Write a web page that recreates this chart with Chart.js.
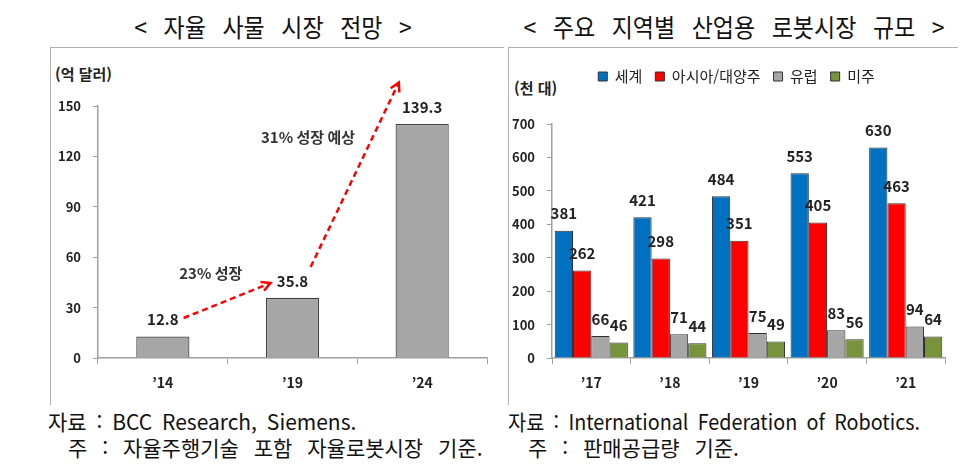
<!DOCTYPE html>
<html lang="ko">
<head>
<meta charset="UTF-8">
<title>자율 사물 시장 전망 / 산업용 로봇시장 규모</title>
<script src="https://cdn.jsdelivr.net/npm/chart.js"></script>
<style>
    body {
        margin: 0;
        width: 970px;
        height: 471px;
        background: #fff;
        position: relative;
        font-family: 'Noto Sans CJK KR', sans-serif;
        color: #111;
        overflow: hidden;
    }
    .title {
        position: absolute;
        top: 9px;
        font-size: 25px;
        line-height: 34px;
        word-spacing: 11px;
        white-space: nowrap;
        transform: translateX(-50%) scaleX(0.92);
    }
    .box {
        position: absolute;
        top: 47px;
        height: 358px;
        border-top: 1.5px solid #b0b0b0;
        border-left: 1.5px solid #b0b0b0;
        box-sizing: border-box;
    }
    .unit {
        position: absolute;
        font-size: 15px;
        font-weight: bold;
        color: #222;
    }
    canvas {
        position: absolute;
    }
    .note {
        position: absolute;
        font-size: 21px;
        white-space: nowrap;
        line-height: 25px;
        word-spacing: 4px;
        transform-origin: left top;
    }
</style>
</head>
<body>
<div class="title" style="left:273px">&lt; 자율 사물 시장 전망 &gt;</div>
<div class="title" style="left:734px">&lt; 주요 지역별 산업용 로봇시장 규모 &gt;</div>

<div class="box" style="left:50px; width:454px"></div>
<div class="box" style="left:508px; width:450px"></div>

<div class="unit" style="left:55px; top:63px">(억 달러)</div>
<div class="unit" style="left:514px; top:77px">(천 대)</div>

<canvas id="leftChart" width="450" height="355" style="left:50px; top:47px"></canvas>
<canvas id="rightChart" width="450" height="355" style="left:508px; top:47px"></canvas>

<div class="note" style="left:48px; top:409px">자료 : BCC Research, Siemens.</div>
<div class="note" style="left:68px; top:435px; word-spacing:9px">주 : 자율주행기술 포함 자율로봇시장 기준.</div>
<div class="note" style="left:508px; top:409px; transform:scaleX(0.94)">자료 : International Federation of Robotics.</div>
<div class="note" style="left:528px; top:435px; word-spacing:9px">주 : 판매공급량 기준.</div>

<script>
    // 왼쪽: 자율 사물 시장 (억 달러)
    const leftLabels = ['’14', '’19', '’24'];
    const leftValues = [12.8, 35.8, 139.3];
    const leftTicks = { min: 0, max: 150, step: 30 };

    // 성장률 화살표 (x: 카테고리 인덱스, y: 값 단위)
    const growthTexts = ['23% 성장', '31% 성장 예상'];
    const growthTextPos = [[0.37, 50.5], [1.12, 131.5]];
    const growthArrows = [
        [[0.16, 23.8], [0.83, 44.6]],
        [[1.14, 54.2], [1.82, 164]]
    ];

    // 오른쪽: 지역별 산업용 로봇시장 (천 대)
    const rightLabels = ['’17', '’18', '’19', '’20', '’21'];
    const seriesNames = ['세계', '아시아/대양주', '유럽', '미주'];
    const worldValues = [381, 421, 484, 553, 630];
    const asiaValues = [262, 298, 351, 405, 463];
    const europeValues = [66, 71, 75, 83, 94];
    const americaValues = [46, 44, 49, 56, 64];
    const rightTicks = { min: 0, max: 700, step: 100 };

    const seriesColors = ['#0070C0', '#FF0000', '#A6A6A6', '#77933C'];

    const FONT = "'Noto Sans CJK KR', sans-serif";
    const axisGray = '#a0a0a0';

    // 막대 위 값 표시
    const valueLabels = {
        id: 'valueLabels',
        afterDatasetsDraw(chart) {
            const ctx = chart.ctx;
            ctx.save();
            ctx.font = 'bold 15px ' + FONT;
            ctx.fillStyle = '#222';
            ctx.textAlign = 'center';
            ctx.textBaseline = 'middle';
            chart.data.datasets.forEach((ds, i) => {
                chart.getDatasetMeta(i).data.forEach((bar, j) => {
                    ctx.fillText(ds.data[j], bar.x, bar.y - 17);
                });
            });
            ctx.restore();
        }
    };

    // 성장률 점선 화살표
    const growthPlugin = {
        id: 'growthPlugin',
        afterDatasetsDraw(chart) {
            const ctx = chart.ctx;
            const xs = chart.scales.x, ys = chart.scales.y;
            const px = p => [xs.getPixelForValue(p[0]), ys.getPixelForValue(p[1])];
            ctx.save();
            ctx.strokeStyle = '#FF0000';
            ctx.lineWidth = 2.5;
            growthArrows.forEach(a => {
                const [x1, y1] = px(a[0]);
                const [x2, y2] = px(a[1]);
                ctx.setLineDash([6, 4]);
                ctx.beginPath();
                ctx.moveTo(x1, y1);
                ctx.lineTo(x2, y2);
                ctx.stroke();
                const ang = Math.atan2(y2 - y1, x2 - x1);
                ctx.setLineDash([]);
                ctx.beginPath();
                ctx.moveTo(x2 - 10 * Math.cos(ang - 0.5), y2 - 10 * Math.sin(ang - 0.5));
                ctx.lineTo(x2, y2);
                ctx.lineTo(x2 - 10 * Math.cos(ang + 0.5), y2 - 10 * Math.sin(ang + 0.5));
                ctx.stroke();
            });
            ctx.font = 'bold 15px ' + FONT;
            ctx.fillStyle = '#333';
            ctx.textAlign = 'center';
            ctx.textBaseline = 'middle';
            growthTexts.forEach((t, i) => {
                const [x, y] = px(growthTextPos[i]);
                ctx.fillText(t, x, y);
            });
            ctx.restore();
        }
    };

    function axisOptions(ticks, yWidth, xHeight) {
        return {
            x: {
                grid: { display: true, drawOnChartArea: false, drawTicks: true, tickLength: 6, color: axisGray, offset: true },
                border: { display: true, color: axisGray, width: 1.5 },
                ticks: { color: '#222', font: { family: FONT, size: 14, weight: 'bold' }, padding: 10 },
                afterFit(scale) { scale.height = xHeight; }
            },
            y: {
                min: ticks.min,
                max: ticks.max,
                grid: { display: true, drawOnChartArea: false, drawTicks: true, tickLength: 5, color: axisGray },
                border: { display: true, color: axisGray, width: 1.5 },
                ticks: { stepSize: ticks.step, color: '#222', font: { family: FONT, size: 13, weight: 'bold' }, padding: 12 },
                afterFit(scale) { scale.width = yWidth; }
            }
        };
    }

    new Chart(document.getElementById('leftChart'), {
        type: 'bar',
        data: {
            labels: leftLabels,
            datasets: [{
                data: leftValues,
                backgroundColor: '#A6A6A6',
                borderColor: '#404040',
                borderWidth: 1.2,
                barPercentage: 0.41,
                categoryPercentage: 1
            }]
        },
        options: {
            responsive: false,
            animation: false,
            layout: { padding: { top: 59, right: 13, left: 0, bottom: 0 } },
            scales: axisOptions(leftTicks, 48, 44),
            plugins: { legend: { display: false }, tooltip: { enabled: false } }
        },
        plugins: [valueLabels, growthPlugin]
    });

    // 범례 높이 고정, 가운데로 약간 이동
    const legendSpacer = {
        id: 'legendSpacer',
        beforeInit(chart) {
            const fit = chart.legend.fit;
            chart.legend.fit = function () {
                fit.call(this);
                this.height = 68;
            };
        },
        afterLayout(chart) {
            chart.legend.left += 10;
            chart.legend.right += 10;
        }
    };

    const rightData = [worldValues, asiaValues, europeValues, americaValues];

    new Chart(document.getElementById('rightChart'), {
        type: 'bar',
        data: {
            labels: rightLabels,
            datasets: rightData.map((vals, i) => ({
                label: seriesNames[i],
                data: vals,
                backgroundColor: seriesColors[i],
                borderColor: '#303030',
                borderWidth: 1,
                barPercentage: 1,
                categoryPercentage: 0.93
            }))
        },
        options: {
            responsive: false,
            animation: false,
            layout: { padding: { top: 9, right: 13, left: 0, bottom: 0 } },
            scales: axisOptions(rightTicks, 44, 44),
            plugins: {
                legend: {
                    position: 'top',
                    labels: {
                        boxWidth: 9,
                        boxHeight: 9,
                        padding: 13,
                        color: '#222',
                        font: { family: FONT, size: 15 }
                    }
                },
                tooltip: { enabled: false }
            }
        },
        plugins: [legendSpacer, valueLabels]
    });
</script>
</body>
</html>
